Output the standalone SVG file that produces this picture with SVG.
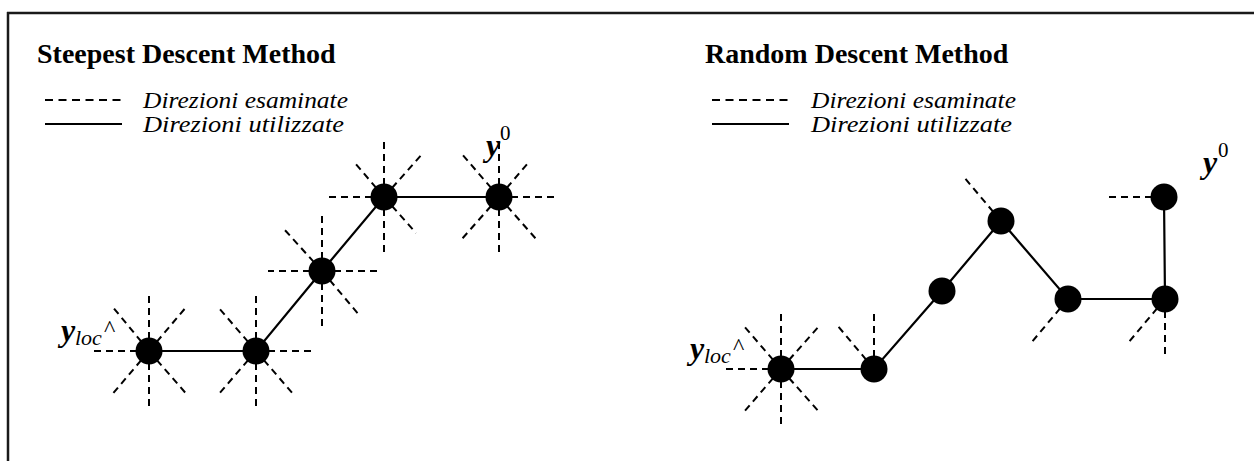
<svg xmlns="http://www.w3.org/2000/svg" width="1254" height="461" viewBox="0 0 1254 461">
<style>
.frame{stroke:#1a1a1a;stroke-width:2.5;fill:none}
.ray{stroke:#000;stroke-width:2;stroke-dasharray:7 5;fill:none}
.leg{stroke:#000;stroke-width:2;stroke-dasharray:8 5.5;fill:none}
.path{stroke:#000;stroke-width:2.2;fill:none}
.node{fill:#000}
.title{font-family:"Liberation Serif",serif;font-weight:bold;font-size:28px;fill:#000}
.legt{font-family:"Liberation Serif",serif;font-style:italic;font-size:24px;fill:#000}
.yb{font-family:"Liberation Serif",serif;font-style:italic;font-weight:bold;font-size:32px;fill:#000}
.sub{font-family:"Liberation Serif",serif;font-style:italic;font-size:22px;fill:#000}
.hat{font-family:"Liberation Serif",serif;font-size:24px;fill:#000}
.sup{font-family:"Liberation Serif",serif;font-size:21px;fill:#000}
</style>
<rect width="1254" height="461" fill="#fff"/>
<g id="frame">
<line class="frame" x1="7" y1="13" x2="1254" y2="13"/>
<line class="frame" x1="8" y1="12" x2="8" y2="461"/>
</g>
<g id="left-title"><text class="title" x="37" y="63">Steepest Descent Method</text></g>
<g id="left-legend">
<line class="leg" x1="45" y1="100" x2="122" y2="100"/>
<text class="legt" x="143" y="108" textLength="205" lengthAdjust="spacingAndGlyphs">Direzioni esaminate</text>
<line class="path" x1="45" y1="124" x2="122" y2="124"/>
<text class="legt" x="143" y="132" textLength="201" lengthAdjust="spacingAndGlyphs">Direzioni utilizzate</text>
</g>
<g id="right-title"><text class="title" x="705" y="63">Random Descent Method</text></g>
<g id="right-legend">
<line class="leg" x1="712" y1="100" x2="789" y2="100"/>
<text class="legt" x="811" y="108" textLength="205" lengthAdjust="spacingAndGlyphs">Direzioni esaminate</text>
<line class="path" x1="712" y1="124" x2="789" y2="124"/>
<text class="legt" x="811" y="132" textLength="201" lengthAdjust="spacingAndGlyphs">Direzioni utilizzate</text>
</g>
<g id="connectors">
<g id="left-rays">
<path class="ray" d="M149 351L149 293M149 351L149 408M149 351L93 351M149 351L111.7 305.7M149 351L187.3 305.7M149 351L111.7 395M149 351L187.3 395"/>
<path class="ray" d="M256 351L256 293M256 351L256 408M256 351L312 351M256 351L218 307M256 351L218 395M256 351L294 395"/>
<path class="ray" d="M322 271L322 215M322 271L322 328M322 271L268 271M322 271L379 271M322 271L283 228M322 271L360 316"/>
<path class="ray" d="M384 197L384 140M384 197L384 253M384 197L329 197M384 197L355 163M384 197L423 153M384 197L416 233"/>
<path class="ray" d="M499 197L499 140M499 197L499 253M499 197L557 197M499 197L461 153M499 197L528 163M499 197L461 240M499 197L537 240"/>
</g>
<polyline id="left-path" class="path" points="149,351 256,351 322,271 384,197 499,197"/>
<g id="right-rays">
<path class="ray" d="M781 369L781 312M781 369L781 426M781 369L725 369M781 369L743 325M781 369L820 325M781 369L743 413M781 369L820 413"/>
<path class="ray" d="M874 369L874 312M874 369L837 325"/>
<path class="ray" d="M1001 221L963 176"/>
<path class="ray" d="M1068 299L1031 343"/>
<path class="ray" d="M1165 299L1128 343M1165 299L1165 357"/>
<path class="ray" d="M1164 197L1107 197"/>
</g>
<polyline id="right-path" class="path" points="781,369 874,369 942,291 1001,221 1068,299 1165,299 1164,197"/>
</g>
<g id="node-A"><circle class="node" cx="149" cy="351" r="13.5"/></g>
<g id="node-B"><circle class="node" cx="256" cy="351" r="13.5"/></g>
<g id="node-C"><circle class="node" cx="322" cy="271" r="13.5"/></g>
<g id="node-D"><circle class="node" cx="384" cy="197" r="13.5"/></g>
<g id="node-E"><circle class="node" cx="499" cy="197" r="13.5"/></g>
<g id="node-R0"><circle class="node" cx="781" cy="369" r="13.5"/></g>
<g id="node-R1"><circle class="node" cx="874" cy="369" r="13.5"/></g>
<g id="node-R2"><circle class="node" cx="942" cy="291" r="13.5"/></g>
<g id="node-R3"><circle class="node" cx="1001" cy="221" r="13.5"/></g>
<g id="node-R4"><circle class="node" cx="1068" cy="299" r="13.5"/></g>
<g id="node-R5"><circle class="node" cx="1165" cy="299" r="13.5"/></g>
<g id="node-R6"><circle class="node" cx="1164" cy="197" r="13.5"/></g>
<g id="labels">
<text class="yb" x="61" y="341">y</text><text class="sub" x="75" y="345">loc</text><text class="hat" x="104" y="336">^</text>
<text class="yb" x="486" y="156">y</text><text class="sup" x="500" y="140">0</text>
<text class="yb" x="690" y="359">y</text><text class="sub" x="704" y="363">loc</text><text class="hat" x="733" y="354">^</text>
<text class="yb" x="1203" y="173">y</text><text class="sup" x="1218" y="157">0</text>
</g>
</svg>
